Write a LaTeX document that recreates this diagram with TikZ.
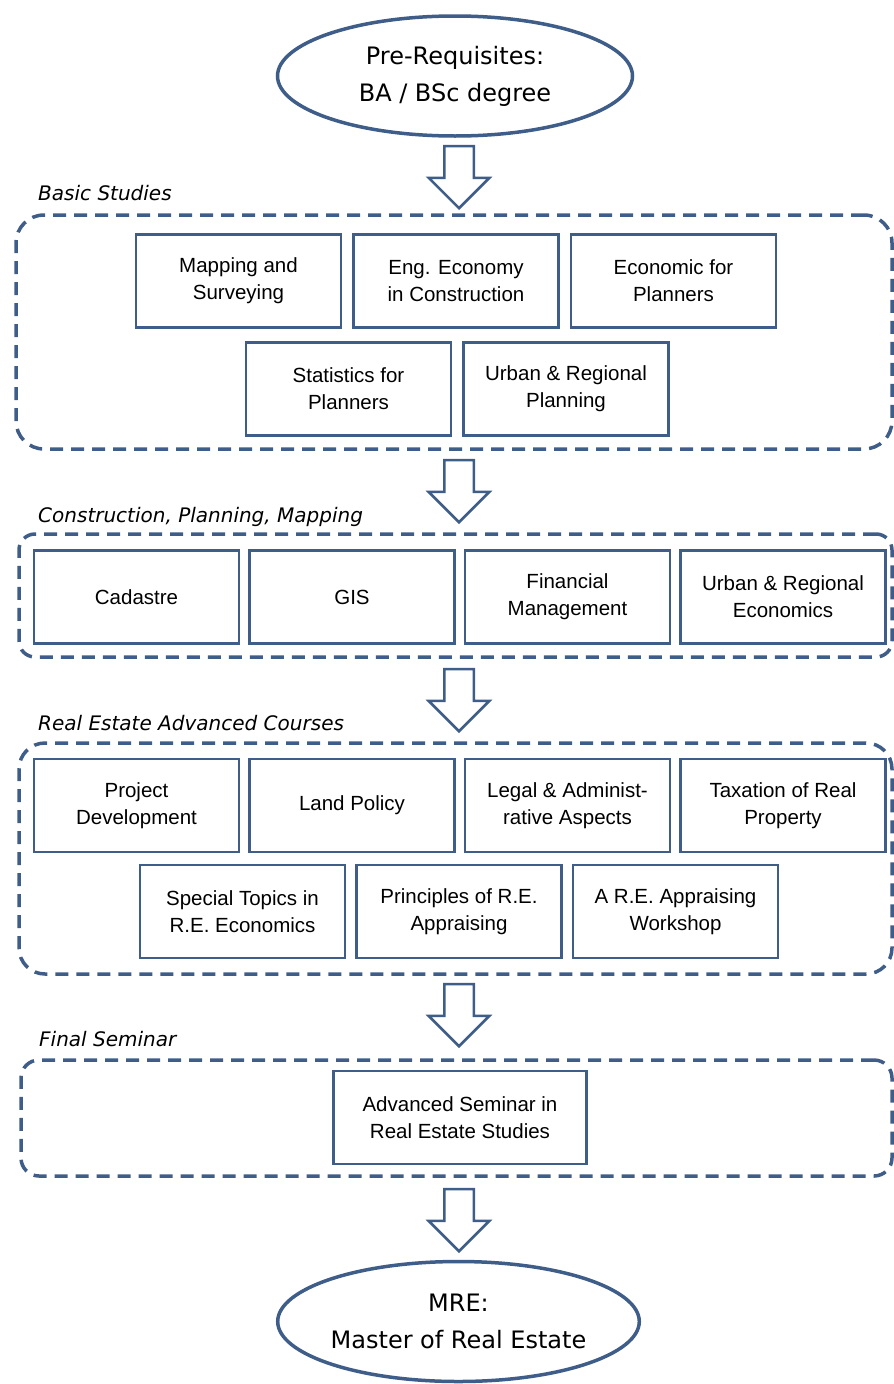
\documentclass[tikz,border=0pt]{standalone}
\usepackage{fontspec}
\setmainfont{Liberation Sans}
\newfontfamily\ovalfont{DejaVu Sans}
\usetikzlibrary{positioning, shapes.geometric, shapes.arrows}
\definecolor{steel}{RGB}{63,93,137}
\tikzset{%
	course/.style={draw=steel, line width=2.5pt, rectangle, minimum width=205pt, minimum height=93pt,%
		inner sep=0pt, align=center, font=\fontsize{20.5}{27}\selectfont},
	goal/.style={draw=steel, line width=3.5pt, ellipse, minimum width=355pt, minimum height=120pt,%
		inner sep=0pt, align=center, font=\ovalfont\fontsize{24}{37}\selectfont},
	stage/.style={draw=steel, line width=3.5pt, dash pattern=on 13pt off 8pt, rectangle},
	caption/.style={anchor=base west, inner sep=0pt, font=\ovalfont\itshape\fontsize{20}{24}\selectfont},
	flow/.style={single arrow, draw=steel, line width=2.5pt, fill=white, rotate=-90, anchor=tip,%
		minimum height=62pt, single arrow head extend=15.5pt, inner xsep=0pt, inner ysep=13.5pt}
}
\begin{document}
\begin{tikzpicture}[x=1pt, y=-1pt]
	\useasboundingbox (0,0) rectangle (894,1384);

	% entry and exit
	\node[goal] (pre) at (455,76) {Pre-Requisites:\\BA / BSc degree};
	\node[goal] (mre) at (458.5,1321.5) {MRE:\\Master of Real Estate};

	% dashed stages
	\node[stage, rounded corners=28pt, minimum width=876pt, minimum height=234pt] (basic) at (454,332) {};
	\node[stage, rounded corners=16pt, minimum width=873pt, minimum height=123pt] (cons) at (455.5,595.5) {};
	\node[stage, rounded corners=26pt, minimum width=873pt, minimum height=231pt] (adv) at (455.5,858.5) {};
	\node[stage, rounded corners=18pt, minimum width=871pt, minimum height=116pt] (fin) at (456.5,1118) {};

	\node[caption] (lbasic) at (38,200) {Basic Studies};
	\node[caption] (lcons) at (38,522) {Construction, Planning, Mapping};
	\node[caption] (ladv) at (38,730) {Real Estate Advanced Courses};
	\node[caption] (lfin) at (39,1046) {Final Seminar};

	% basic studies
	\node[course] (map) at (238.5,281) {Mapping and\\Surveying};
	\node[course, right=10pt of map] (eng) {Eng. Economy\\in Construction};
	\node[course, right=10pt of eng] (eco) {Economic for\\Planners};
	\node[course] (stat) at (348.5,389) {Statistics for\\Planners};
	\node[course, right=10pt of stat] (urb) {Urban \& Regional\\Planning};

	% construction, planning, mapping
	\node[course] (cad) at (136.5,597) {Cadastre};
	\node[course, right=8pt of cad] (gis) {GIS};
	\node[course, right=8pt of gis] (finm) {Financial\\Management};
	\node[course, right=8pt of finm] (urbe) {Urban \& Regional\\Economics};

	% advanced courses
	\node[course] (proj) at (136.5,805.5) {Project\\Development};
	\node[course, right=8pt of proj] (land) {Land Policy};
	\node[course, right=8pt of land] (legal) {Legal \& Administ-\\rative Aspects};
	\node[course, right=8pt of legal] (tax) {Taxation of Real\\Property};
	\node[course] (spec) at (242.5,911.5) {Special Topics in\\R.E. Economics};
	\node[course, right=9pt of spec] (princ) {Principles of R.E.\\Appraising};
	\node[course, right=9pt of princ] (work) {A R.E. Appraising\\Workshop};

	% final seminar
	\node[course, minimum width=253pt] (sem) at (460,1117.5) {Advanced Seminar in\\Real Estate Studies};

	% block arrows, placed by their tips
	\node[flow] (a1) at (459,210) {};
	\node[flow] (a2) at (459,524) {};
	\node[flow] (a3) at (459,733) {};
	\node[flow] (a4) at (459,1048) {};
	\node[flow] (a5) at (459,1253) {};
\end{tikzpicture}
\end{document}
